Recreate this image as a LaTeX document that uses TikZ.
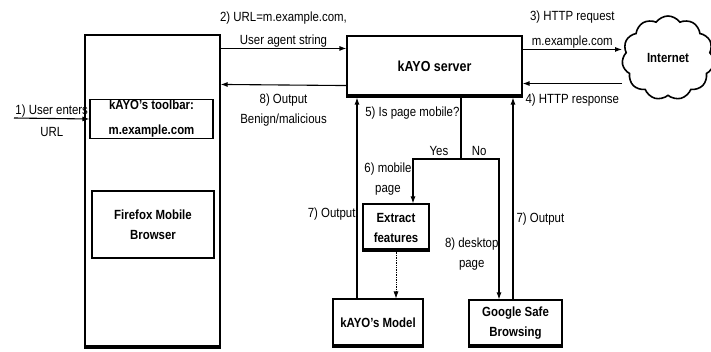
\documentclass[tikz,border=0pt]{standalone}
\usepackage{fontspec}
\setmainfont{Liberation Sans}[FakeStretch=0.86]
\usepackage{tikz}
\usetikzlibrary{arrows.meta, positioning, shapes.symbols}

\begin{document}
\begin{tikzpicture}[
    x=1pt, y=-1pt,
    box/.style={
      rectangle,
      draw=black,
      line width=1.1pt,
      inner sep=0pt,
      align=center,
      font=\bfseries\fontsize{13.3}{20}\selectfont
    },
    lbl/.style={
      inner sep=1pt,
      align=center,
      font=\fontsize{13.3}{20}\selectfont
    },
    arrow/.style={
      -{Latex[length=7pt,width=5pt]},
      line width=1.1pt
    },
    bar/.style={line width=4pt}
  ]
    \useasboundingbox (0,0) rectangle (711,352);

    % Browser
    \node[box, minimum width=135pt, minimum height=313pt] (brw) at (152.5,191.5) {};
    \node[box, minimum width=123pt, minimum height=39pt] (tb) at (151.5,119) {kAYO's toolbar:\\[5pt]m.example.com};
    \node[box, minimum width=122pt, minimum height=67pt] (ff) at (153,224.5) {Firefox Mobile\\Browser};

    % Server and Internet
    \node[box, minimum width=175pt, minimum height=61pt,
      font=\bfseries\fontsize{14.5}{20}\selectfont] (srv) at (434.5,66.5) {kAYO server};
    \node[cloud, draw, line width=1.6pt, cloud puffs=11, cloud puff arc=110,
      minimum width=92pt, minimum height=84pt, inner sep=0pt,
      font=\bfseries\fontsize{13.3}{20}\selectfont] (inet) at (668,58) {Internet};

    % Analysis
    \node[box, minimum width=66pt, minimum height=47pt] (ext) at (396,227.5) {Extract\\features};
    \node[box, minimum width=90pt, minimum height=48pt] (mdl) at (378,323) {kAYO's Model};
    \node[box, minimum width=93pt, minimum height=47pt] (gsb) at (515.5,323.5) {Google Safe\\Browsing};

    % Bottom bars
    \draw[bar] ([yshift=2pt]brw.south west) -- ([yshift=2pt]brw.south east);
    \draw[bar] ([yshift=2pt]srv.south west) -- ([yshift=2pt]srv.south east);
    \draw[bar] ([yshift=2pt]ext.south west) -- ([yshift=2pt]ext.south east);
    \draw[bar] ([yshift=2pt]mdl.south west) -- ([yshift=2pt]mdl.south east);
    \draw[bar] ([yshift=2pt]gsb.south west) -- ([yshift=2pt]gsb.south east);

    % Connections
    \coordinate (usr) at (14,118);
    \draw[arrow] (usr) -- (tb.west)
      node[lbl, midway, above] {1) User enters}
      node[lbl, midway, below=7pt] {URL};

    \draw[arrow] ([yshift=-14pt]brw.north east) -- ([yshift=-13pt]srv.north west)
      node[lbl, midway, above] {2) URL=m.example.com,\\[3pt]User agent string};
    \draw[arrow] ([yshift=12pt]srv.south west) -- ([yshift=-50pt]brw.north east)
      node[lbl, midway, below=7pt] {8) Output\\Benign/malicious};

    \coordinate (r3) at ([yshift=-14pt]srv.north east);
    \coordinate (r4) at ([yshift=14pt]srv.south east);
    \draw[arrow] (r3) -- (r3 -| inet.west)
      node[lbl, midway, above] {3) HTTP request\\[5pt]m.example.com};
    \draw[arrow] (r4 -| inet.west) -- (r4)
      node[lbl, midway, below=9pt] {4) HTTP response};

    \coordinate (split) at (461,159);
    \draw[line width=1.1pt] (srv.south -| split) -- (split)
      node[lbl, pos=0.26, left] {5) Is page mobile?};
    \draw[arrow] (split) -| ([xshift=17pt]ext.north)
      node[lbl, pos=0.23, above=2pt] {Yes}
      node[lbl, pos=0.73, left] {6) mobile\\page};
    \draw[arrow] (split) -| ([xshift=-16.5pt]gsb.north)
      node[lbl, pos=0.24, above=2pt] {No}
      node[lbl, pos=0.84, left, inner sep=0pt] {8) desktop\\page};

    \draw[arrow, line width=0.7pt, densely dotted] (ext.south) -- (ext.south |- mdl.north);

    \coordinate (m7) at ([xshift=-21pt]mdl.north);
    \coordinate (g7) at ([xshift=-2.5pt]gsb.north);
    \draw[arrow] (m7) -- (m7 |- srv.south)
      node[lbl, pos=0.42, left] {7) Output};
    \draw[arrow] (g7) -- (g7 |- srv.south)
      node[lbl, pos=0.40, right=2pt] {7) Output};

  \end{tikzpicture}
\end{document}
